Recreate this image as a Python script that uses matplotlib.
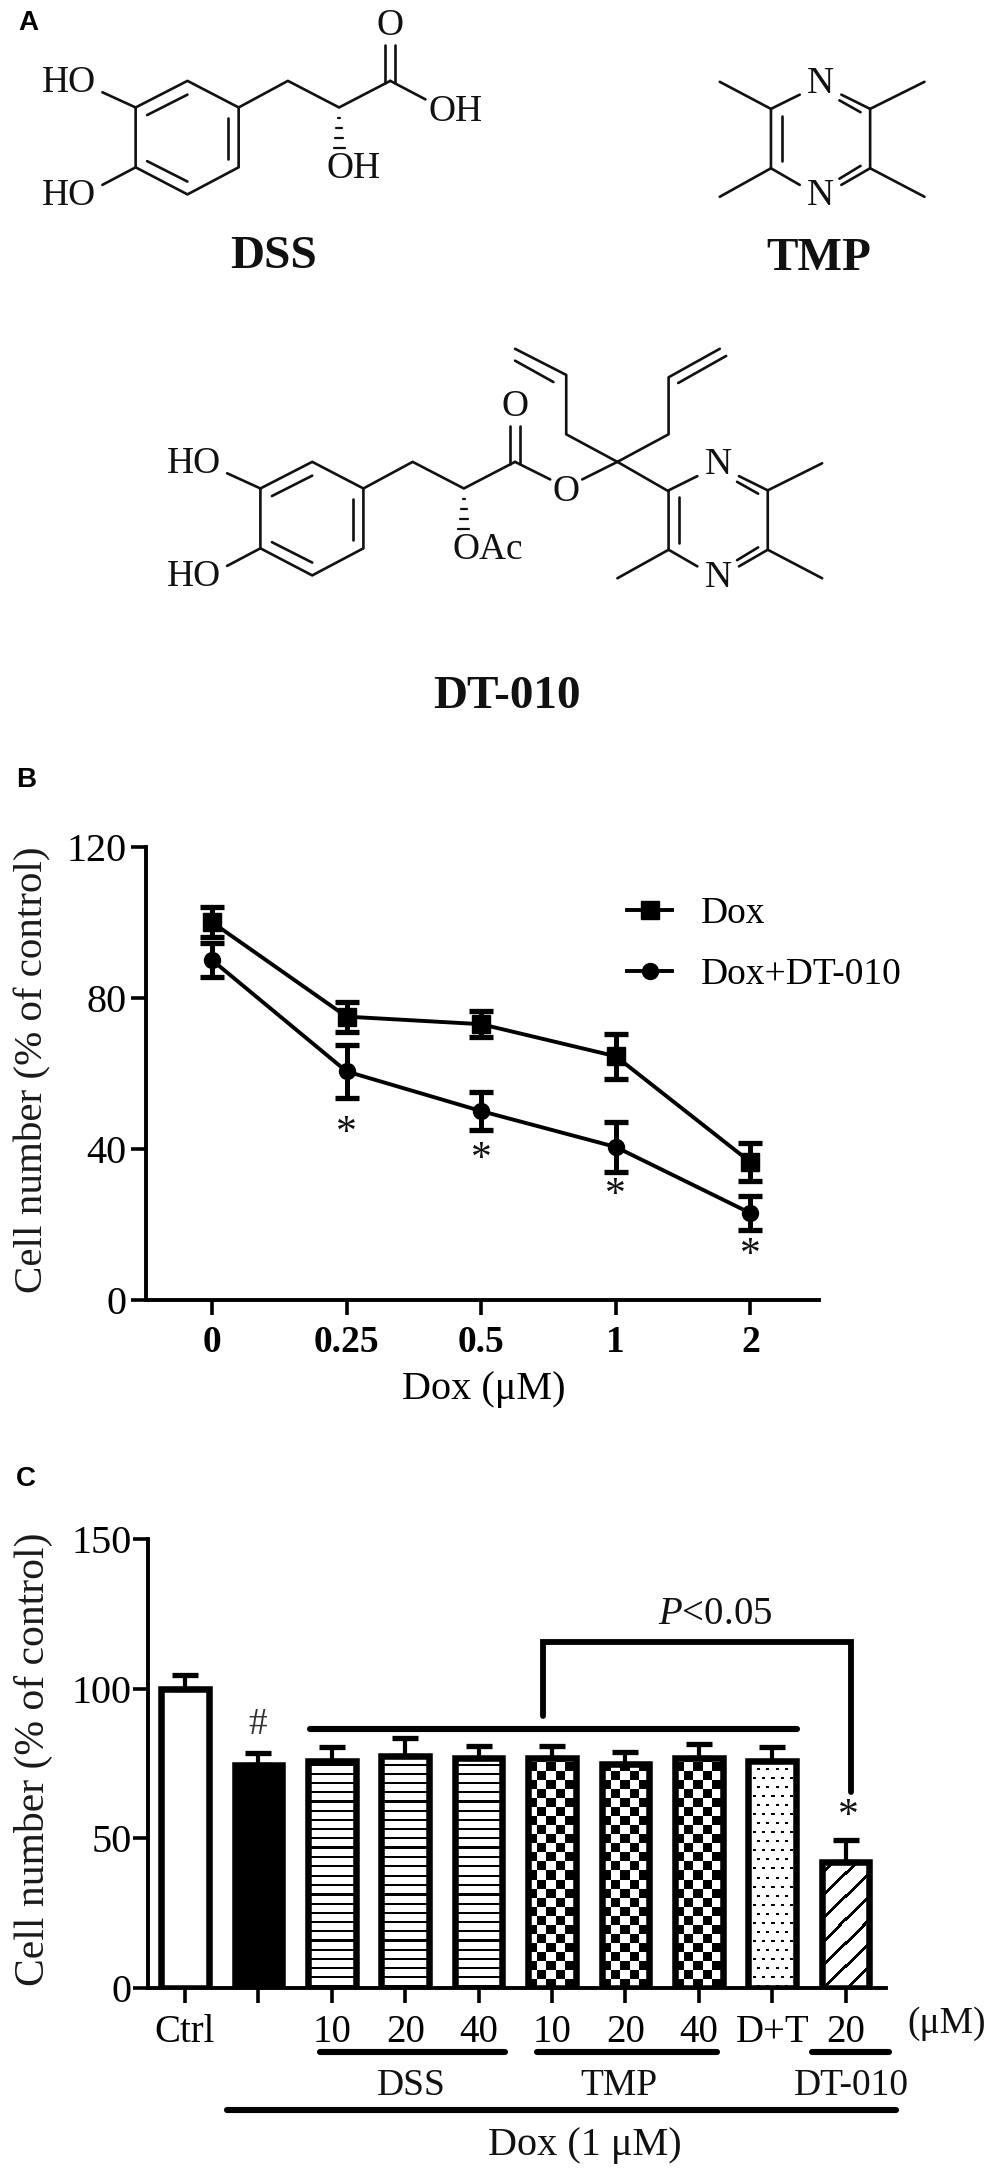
import numpy as np
import matplotlib
matplotlib.use('Agg')
import matplotlib.pyplot as plt

plt.rcParams['font.family'] = ['Liberation Serif', 'DejaVu Serif']
plt.rcParams['mathtext.fontset'] = 'custom'
plt.rcParams['mathtext.it'] = 'Liberation Serif:italic'
plt.rcParams['mathtext.rm'] = 'Liberation Serif'

# ---- panel B data
dose_labels = ['0', '0.25', '0.5', '1', '2']
dox_mean = [100, 75, 73, 64.5, 36.5]
dox_err = [4, 4, 3.5, 6, 5]
combo_mean = [90, 60.5, 50, 40.5, 23]
combo_err = [4.5, 7, 5, 6.5, 4.5]
b_star_y = [44, 37, 27.5, 11.8]
b_yticks = [0, 40, 80, 120]

# ---- panel C data
bar_labels = ['Ctrl', '', '10', '20', '40', '10', '20', '40', 'D+T', '20']
bar_mean = [100, 74.5, 76, 77.5, 77, 77, 75, 77, 76, 42]
bar_err = [4.5, 4, 4.5, 6, 4, 4, 4, 4.5, 4.5, 7.5]
bar_kind = ['white', 'black', 'stripes', 'stripes', 'stripes', 'checks', 'checks', 'checks', 'dots', 'diag']
c_yticks = [0, 50, 100, 150]

W, H = 1000, 2178
fig = plt.figure(figsize=(W / 100, H / 100), dpi=100, facecolor='white')


def axes_px(l, t, r, b, **kw):
    return fig.add_axes([l / W, 1 - b / H, (r - l) / W, (b - t) / H], **kw)


def style(ax):
    for s in ('top', 'right'):
        ax.spines[s].set_visible(False)
    for s in ('left', 'bottom'):
        ax.spines[s].set_linewidth(2.8)
    ax.tick_params(axis='both', width=2.6, length=11)
    ax.patch.set_alpha(0)


# ---------------- overlay in pixels
ov = fig.add_axes([0, 0, 1, 1], zorder=10)
ov.set_xlim(0, W)
ov.set_ylim(H, 0)
ov.axis('off')

SX, SY, Y0 = 1.563, 2.105, 2


def seg(pts, lw=1.9):
    p = np.array(pts, float)
    ov.plot(p[:, 0] / SX, p[:, 1] / SY + Y0, color='#111111', lw=lw, solid_capstyle='round', solid_joinstyle='round')


def chem(x, y, s, size=27, **kw):
    ov.text(x / SX, y / SY + Y0, s, fontsize=size, ha='center', va='center', color='#111111', **kw)


def dashes(x, y0, y1, n=4):
    for i, y in enumerate(np.linspace(y0, y1, n)):
        hw = 2 + i * 2.2
        seg([(x - hw, y), (x + hw, y)], lw=1.6)


def catechol(dx, dy):
    seg([(212 + dx, 222 + dy), (293 + dx, 166 + dy), (373 + dx, 222 + dy), (373 + dx, 348 + dy),
         (293 + dx, 405 + dy), (212 + dx, 348 + dy), (212 + dx, 222 + dy)])
    seg([(230 + dx, 238 + dy), (293 + dx, 195 + dy)])
    seg([(357 + dx, 245 + dy), (357 + dx, 330 + dy)])
    seg([(230 + dx, 335 + dy), (293 + dx, 378 + dy)])
    seg([(160 + dx, 190 + dy), (212 + dx, 222 + dy)])
    seg([(160 + dx, 385 + dy), (212 + dx, 348 + dy)])
    chem(108 + dx, 170 + dy, 'HO')
    chem(108 + dx, 408 + dy, 'HO')
    seg([(373 + dx, 222 + dy), (450 + dx, 166 + dy), (530 + dx, 222 + dy), (610 + dx, 166 + dy)])
    seg([(602 + dx, 170 + dy), (602 + dx, 90 + dy)])
    seg([(618 + dx, 170 + dy), (618 + dx, 90 + dy)])
    chem(610 + dx, 50 + dy, 'O')
    dashes(530 + dx, 245 + dy, 308 + dy)


def pyrazine(dx, dy):
    seg([(1205 + dx, 350 + dy), (1205 + dx, 225 + dy), (1250 + dx, 195 + dy)])
    seg([(1315 + dx, 195 + dy), (1360 + dx, 225 + dy), (1360 + dx, 350 + dy), (1315 + dx, 385 + dy)])
    seg([(1250 + dx, 385 + dy), (1205 + dx, 350 + dy)])
    seg([(1222 + dx, 240 + dy), (1222 + dx, 335 + dy)])
    seg([(1312 + dx, 207 + dy), (1345 + dx, 232 + dy)])
    seg([(1312 + dx, 372 + dy), (1345 + dx, 345 + dy)])
    seg([(1360 + dx, 350 + dy), (1445 + dx, 410 + dy)])
    seg([(1205 + dx, 350 + dy), (1125 + dx, 410 + dy)])
    seg([(1360 + dx, 225 + dy), (1445 + dx, 168 + dy)])
    chem(1283 + dx, 172 + dy, 'N')
    chem(1283 + dx, 408 + dy, 'N')


# DSS
catechol(0, 0)
seg([(610, 166), (665, 205)])
chem(712, 230, 'OH')
chem(553, 350, 'OH')
chem(428, 537, 'DSS', size=34, fontweight='bold')
# TMP
pyrazine(0, 0)
seg([(1205, 225), (1125, 168)])
chem(1280, 540, 'TMP', size=34, fontweight='bold')
# DT-010
catechol(195, 802)
seg([(805, 968), (860, 1005)])
chem(885, 1030, 'O')
seg([(910, 1005), (965, 968)])
chem(762, 1152, 'OAc')
seg([(965, 968), (885, 910), (885, 785), (805, 730)])
seg([(865, 800), (805, 755)])
seg([(965, 968), (1045, 910), (1045, 790), (1125, 730)])
seg([(1060, 802), (1135, 745)])
seg([(965, 968), (1045, 1030)])
pyrazine(-160, 803)
chem(793, 1462, 'DT-010', size=34, fontweight='bold')

for letter, x, y in (('A', 28, 23), ('B', 26, 780), ('C', 26, 1479)):
    ov.text(x, y, letter, fontsize=20, fontweight='bold', family='Liberation Sans', ha='center', va='center', color='black')

# ---------------- panel B
axb = axes_px(146, 846.6, 819, 1300)
style(axb)
xb = np.arange(len(dose_labels))
l1, = axb.plot(xb, dox_mean, marker='s', label='Dox', color='black', lw=2.8, ms=12.5)
l2, = axb.plot(xb, combo_mean, marker='o', label='Dox+DT-010', color='black', lw=2.8, ms=11.5)
err_kw = dict(fmt='none', ecolor='black', elinewidth=3.6, capsize=8.5, capthick=3.8)
axb.errorbar(xb, dox_mean, yerr=dox_err, **err_kw)
axb.errorbar(xb, combo_mean, yerr=combo_err, **err_kw)
axb.set_xlim(-0.49, 4.51)
axb.set_ylim(0, 120)
axb.set_yticks(b_yticks)
axb.set_xticks(xb)
axb.set_xticklabels(dose_labels, fontweight='bold', fontsize=27)
axb.tick_params(axis='y', labelsize=29, pad=3)
axb.tick_params(axis='x', pad=7)
for x, y in zip(xb[1:], b_star_y):
    axb.text(x, y, '*', fontsize=30, ha='center', va='center', color='#111111')
axb.set_xlabel('Dox (μM)', fontsize=29, labelpad=1)
axb.xaxis.set_label_coords((484 - 146) / 673, -(1389 - 1300) / 453.4)
axb.xaxis.label.set_va('center')
ov.text(33, 1070, 'Cell number (% of control)', rotation=90, fontsize=29.5, ha='center', va='center', color='#1a1a1a')
axb.legend(handles=[l1, l2], loc='center left', bbox_to_anchor=(627, 944), bbox_transform=ov.transData,
           frameon=False, fontsize=27, handlelength=1.2, handletextpad=0.78, labelspacing=0.7, borderpad=0,
           borderaxespad=0)

# ---------------- panel C
axc = axes_px(148, 1539.4, 886, 1988)
style(axc)
xc = np.arange(len(bar_labels))
bw = 0.647
px_per_x = 738 / (9.55 + 0.504)
px_per_y = 448.6 / 150


def pattern(kind, w, h):
    yy, xx = np.mgrid[0:h, 0:w]
    if kind == 'stripes':
        return (yy % 9.2) < 2.2
    if kind == 'checks':
        return ((xx // 9 + yy // 9) % 2) == 0
    if kind == 'dots':
        row = yy // 9
        return ((yy % 9) < 3) & (((xx + 4 * (row % 2)) % 9) < 3) & ((yy % 9) > 0)
    if kind == 'diag':
        return ((xx - yy) % 23) < 3.5
    return np.zeros_like(xx, bool)


for x, v, k in zip(xc, bar_mean, bar_kind):
    bar = axc.bar(x, v, width=bw, facecolor='none', edgecolor='black', linewidth=4.7, zorder=3)[0]
    w_px, h_px = max(int(bw * px_per_x), 1), max(int(v * px_per_y), 1)
    if k == 'black':
        axc.bar(x, v, width=bw, color='black', zorder=2)
    elif k != 'white':
        img = axc.imshow(pattern(k, w_px, h_px), cmap='gray_r', vmin=0, vmax=1, origin='lower', aspect='auto',
                         extent=[x - bw / 2, x + bw / 2, 0, v], interpolation='nearest', zorder=2)
        img.set_clip_path(bar)
axc.set_xlim(-0.504, 9.55)
axc.set_ylim(0, 150)
axc.errorbar(xc, bar_mean, yerr=[np.zeros(len(xc)), bar_err], fmt='none', ecolor='black', elinewidth=3,
             capsize=9.5, capthick=3.8, zorder=4)
axc.set_xticks(xc)
axc.set_xticklabels(bar_labels, fontsize=28)
axc.set_yticks(c_yticks)
axc.tick_params(axis='y', labelsize=29, pad=1)
axc.tick_params(axis='x', pad=8)
ov.text(33, 1759, 'Cell number (% of control)', rotation=90, fontsize=30, ha='center', va='center', color='#1a1a1a')


def heavy(pts, lw=4.4):
    p = np.array(pts, float)
    ov.plot(p[:, 0], p[:, 1], color='black', lw=lw, solid_capstyle='round', solid_joinstyle='miter')


heavy([(310, 1729), (797, 1729)])
heavy([(542.5, 1716), (542.5, 1642), (851, 1642), (851, 1792)], lw=4.2)
heavy([(320, 2052), (505, 2052)])
heavy([(537, 2052), (717, 2052)])
heavy([(812, 2052), (889, 2052)])
heavy([(227, 2110), (896, 2110)])
ov.text(715, 1614, r'$\mathit{P}$<0.05', fontsize=28, ha='center', va='center', color='#111111')
ov.text(258, 1725, '#', fontsize=27, ha='center', va='center', color='#333333')
ov.text(848, 1817, '*', fontsize=30, ha='center', va='center', color='#111111')
ov.text(947, 2024, '(μM)', fontsize=27, ha='center', va='center', color='#111111')
ov.text(411, 2086, 'DSS', fontsize=27, ha='center', va='center', color='#111111')
ov.text(619, 2086, 'TMP', fontsize=27, ha='center', va='center', color='#111111')
ov.text(851, 2086, 'DT-010', fontsize=27, ha='center', va='center', color='#111111')
ov.text(585, 2145, 'Dox (1 μM)', fontsize=29, ha='center', va='center', color='#111111')

fig.savefig('out.png', dpi=100, facecolor='white')
